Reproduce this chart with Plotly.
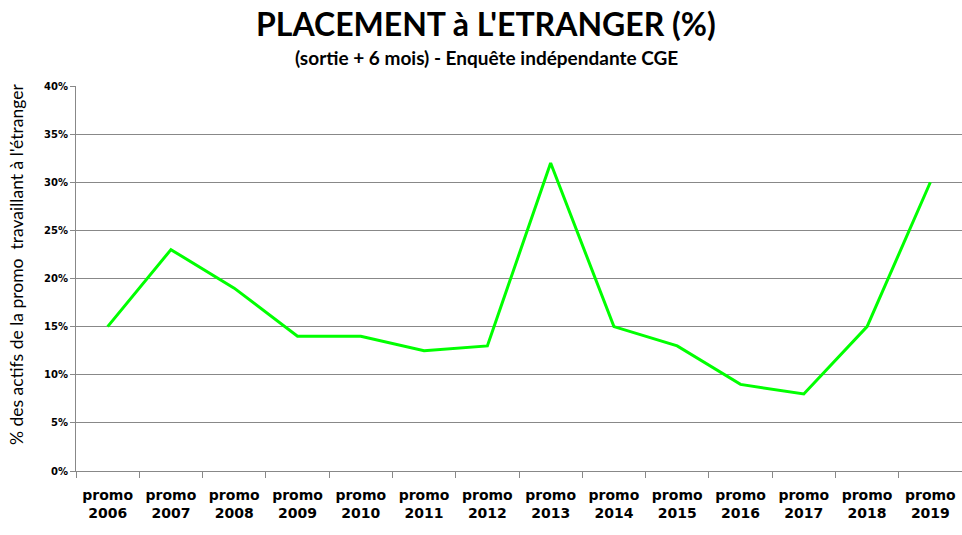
import plotly.graph_objects as go

categories = ["promo<br>2006", "promo<br>2007", "promo<br>2008", "promo<br>2009", "promo<br>2010",
              "promo<br>2011", "promo<br>2012", "promo<br>2013", "promo<br>2014", "promo<br>2015",
              "promo<br>2016", "promo<br>2017", "promo<br>2018", "promo<br>2019"]
values = [0.15, 0.23, 0.19, 0.14, 0.14, 0.125, 0.13, 0.32, 0.15, 0.13, 0.09, 0.08, 0.15, 0.30]

title_text = "PLACEMENT à L'ETRANGER (%)"
subtitle_text = "(sortie + 6 mois) - Enquête indépendante CGE"
ytitle = "% des actifs de la promo  travaillant à l'étranger"

W, H = 962, 535
L, R, T, B = 76, 0, 86, 64
PW, PH = W - L - R, H - T - B

fig = go.Figure()
fig.add_trace(go.Scatter(x=categories, y=values, mode="lines",
                         line=dict(color="#00ff00", width=3), hoverinfo="skip"))

fig.update_layout(
    width=W, height=H,
    margin=dict(l=L, r=R, t=T, b=B, autoexpand=False),
    paper_bgcolor="white", plot_bgcolor="white",
    showlegend=False,
)
fig.add_annotation(text="<b>" + title_text + "</b>", xref="paper", yref="paper",
                   x=(485.5 - L) / PW, y=1 + (T - 23) / PH, showarrow=False,
                   xanchor="center", yanchor="middle",
                   font=dict(family="Lato", size=32, color="black"))
fig.add_annotation(text="<b>" + subtitle_text + "</b>", xref="paper", yref="paper",
                   x=(486 - L) / PW, y=1 + (T - 57) / PH, showarrow=False,
                   xanchor="center", yanchor="middle",
                   font=dict(family="Lato", size=19, color="black"))
fig.add_annotation(text=ytitle, xref="paper", yref="paper",
                   x=-(L - 16) / PW, y=(H - B - 265) / PH, showarrow=False,
                   xanchor="center", yanchor="middle", textangle=-90,
                   font=dict(family="Lato", size=17.5, color="black"))

fig.update_xaxes(
    type="category", range=[-0.5, len(categories) - 0.5],
    tickson="boundaries", ticks="outside", ticklen=6,
    tickcolor="#888888", showline=True, linecolor="#888888", linewidth=1,
    showgrid=False, tickfont=dict(family="DejaVu Sans", size=14, color="black"),
    tickprefix="<b>", ticksuffix="</b>", ticklabelstandoff=11,
)
fig.update_yaxes(
    range=[0, 0.4], dtick=0.05, tickformat=".0%", ticks="outside", ticklen=5,
    tickcolor="#888888", showline=True, linecolor="#888888", linewidth=1,
    showgrid=True, gridcolor="#888888", gridwidth=1, zeroline=False,
    tickfont=dict(family="DejaVu Sans", size=10, color="black"),
    tickprefix="<b>", ticksuffix="</b>",
)

fig.write_html("out.html", config={"displayModeBar": False},
               post_script="document.body.style.margin='0';")
